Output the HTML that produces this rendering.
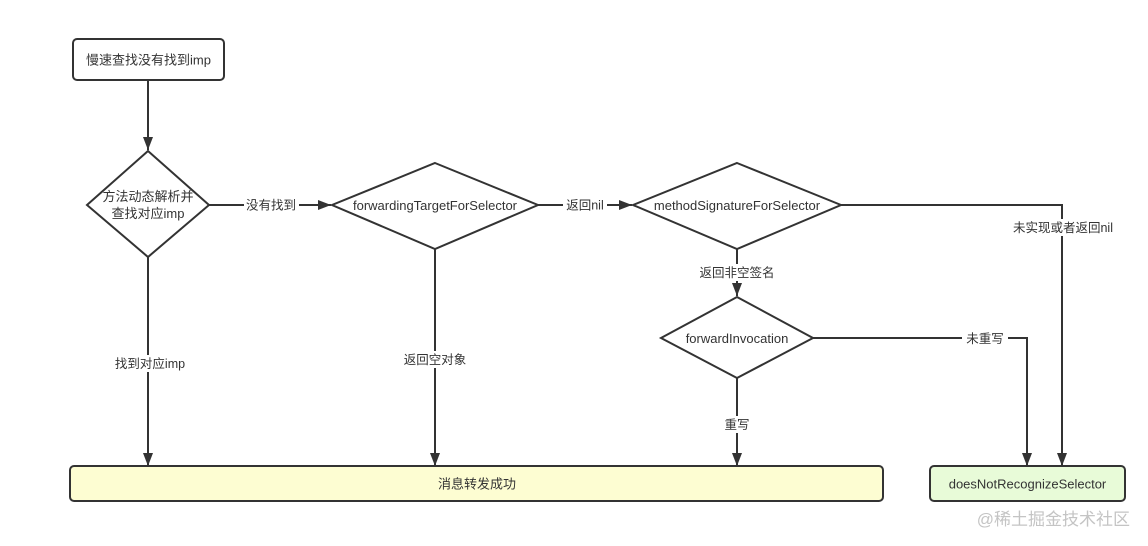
<!DOCTYPE html>
<html><head><meta charset="utf-8"><style>
html,body{margin:0;padding:0;background:#fff;}
svg{display:block;}
text{font-family:"Liberation Sans","Noto Sans CJK SC",sans-serif;fill:#333;}
</style></head><body>
<svg width="1148" height="546" viewBox="0 0 1148 546" xmlns="http://www.w3.org/2000/svg">
<defs>
<marker id="a" markerWidth="14" markerHeight="12" refX="13" refY="6" orient="auto" markerUnits="userSpaceOnUse">
<path d="M0,1 L13,6 L0,11 Z" fill="#333"/>
</marker>
</defs>
<g stroke="#333" stroke-width="2" fill="none">
<line x1="148" y1="80" x2="148" y2="150" marker-end="url(#a)"/>
<line x1="209" y1="205" x2="331" y2="205" marker-end="url(#a)"/>
<line x1="148" y1="257" x2="148" y2="466" marker-end="url(#a)"/>
<line x1="538" y1="205" x2="632" y2="205" marker-end="url(#a)"/>
<line x1="435" y1="249" x2="435" y2="466" marker-end="url(#a)"/>
<polyline points="841,205 1062,205 1062,466" marker-end="url(#a)"/>
<line x1="737" y1="249" x2="737" y2="296" marker-end="url(#a)"/>
<polyline points="813,338 1027,338 1027,466" marker-end="url(#a)"/>
<line x1="737" y1="378" x2="737" y2="466" marker-end="url(#a)"/>
</g>
<rect x="73" y="39" width="151" height="41" rx="4" fill="#fff" stroke="#333" stroke-width="2"/>
<text x="148.5" y="64.5" font-size="13" text-anchor="middle">慢速查找没有找到imp</text>
<polygon points="148,151 209,205 148,257 87,205" fill="#fff" stroke="#333" stroke-width="2"/>
<text x="148" y="201" font-size="13" text-anchor="middle">方法动态解析并</text>
<text x="148" y="218" font-size="13" text-anchor="middle">查找对应imp</text>
<polygon points="435,163 538,205 435,249 332,205" fill="#fff" stroke="#333" stroke-width="2"/>
<text x="435" y="210" font-size="13" text-anchor="middle">forwardingTargetForSelector</text>
<polygon points="737,163 841,205 737,249 633,205" fill="#fff" stroke="#333" stroke-width="2"/>
<text x="737" y="210" font-size="13" text-anchor="middle">methodSignatureForSelector</text>
<polygon points="737,297 813,338 737,378 661,338" fill="#fff" stroke="#333" stroke-width="2"/>
<text x="737" y="343" font-size="13" text-anchor="middle">forwardInvocation</text>
<rect x="70" y="466" width="813" height="35" rx="4" fill="#fdfdd2" stroke="#333" stroke-width="2"/>
<text x="477" y="488.5" font-size="13" text-anchor="middle">消息转发成功</text>
<rect x="930" y="466" width="195" height="35" rx="4" fill="#e8fbd8" stroke="#333" stroke-width="2"/>
<text x="1027.5" y="488.5" font-size="13" text-anchor="middle">doesNotRecognizeSelector</text>
<g font-size="12.5">
<rect x="244" y="197" width="55" height="16" fill="#fff"/>
<text x="271" y="209.5" text-anchor="middle">没有找到</text>
<rect x="563" y="197" width="44" height="16" fill="#fff"/>
<text x="585" y="209.5" text-anchor="middle">返回nil</text>
<rect x="1008" y="219" width="110" height="17" fill="#fff"/>
<text x="1063" y="232" text-anchor="middle">未实现或者返回nil</text>
<rect x="698" y="264" width="78" height="17" fill="#fff"/>
<text x="737" y="277" text-anchor="middle">返回非空签名</text>
<rect x="962" y="330" width="46" height="17" fill="#fff"/>
<text x="985" y="343" text-anchor="middle">未重写</text>
<rect x="720" y="416" width="34" height="17" fill="#fff"/>
<text x="737" y="429" text-anchor="middle">重写</text>
<rect x="111" y="355" width="78" height="17" fill="#fff"/>
<text x="150" y="368" text-anchor="middle">找到对应imp</text>
<rect x="402" y="351" width="66" height="17" fill="#fff"/>
<text x="435" y="364" text-anchor="middle">返回空对象</text>
</g>
<text x="1130" y="525" font-size="17" text-anchor="end" style="fill:#c4c4c4">@稀土掘金技术社区</text>
</svg>
</body></html>
